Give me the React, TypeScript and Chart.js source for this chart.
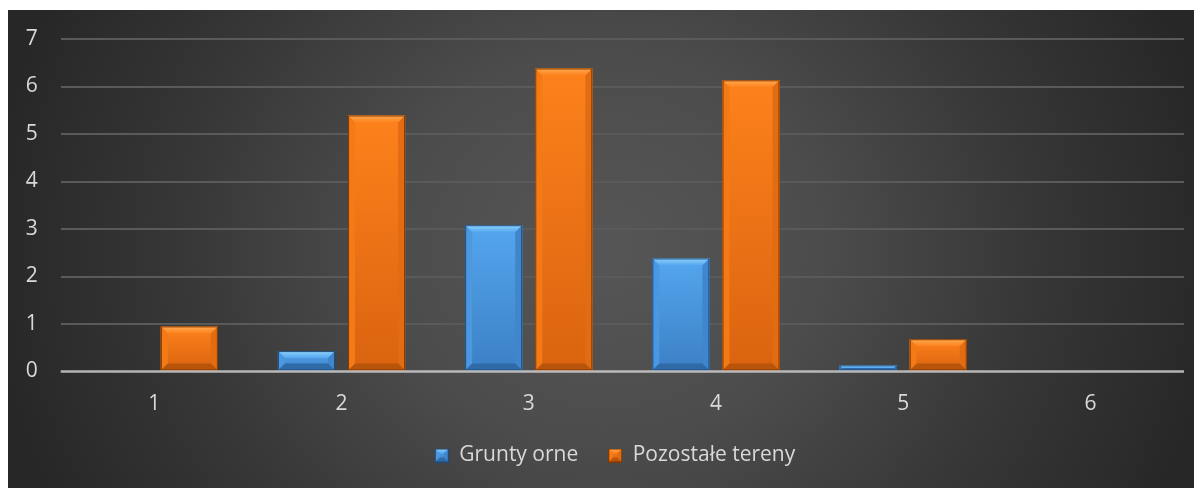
import React, { useEffect, useRef } from "react";
import { Chart, registerables } from "chart.js";

Chart.register(...registerables);

// ---- data ----
const categories = ["1", "2", "3", "4", "5", "6"];
const gruntyOrne = [0, 0.43, 3.08, 2.38, 0.13, 0];
const pozostaleTereny = [0.95, 5.39, 6.38, 6.13, 0.68, 0];
const yTicks = [0, 1, 2, 3, 4, 5, 6, 7];
const seriesNames = ["Grunty orne", "Pozostałe tereny"];

// ---- styling ----
const W = 1194;
const H = 478;
const FONT = "'Open Sans', 'DejaVu Sans', sans-serif";
const TEXT = "#d9d9d9";
const LEGEND_SHIFT = 15;

type Palette = {
  flat: string;
  bodyTop: string;
  bodyBottom: string;
  light: string;
  side: string;
  sideDark: string;
  dark: string;
  edge: string;
};

const bluePalette: Palette = {
  flat: "#4a98e2",
  bodyTop: "#54a6ee",
  bodyBottom: "#3c80c6",
  light: "#8ed2fa",
  side: "#4b98e0",
  sideDark: "#3f86cc",
  dark: "#2f6aa6",
  edge: "#1d4c7c",
};

const orangePalette: Palette = {
  flat: "#f57a16",
  bodyTop: "#fd821c",
  bodyBottom: "#da630f",
  light: "#ffaa52",
  side: "#f47a16",
  sideDark: "#e26c11",
  dark: "#b9540b",
  edge: "#7f3704",
};

const palettes = [bluePalette, orangePalette];

function poly(ctx: CanvasRenderingContext2D, pts: number[][], fill: string | CanvasGradient) {
  ctx.beginPath();
  ctx.moveTo(pts[0][0], pts[0][1]);
  for (let i = 1; i < pts.length; i++) ctx.lineTo(pts[i][0], pts[i][1]);
  ctx.closePath();
  ctx.fillStyle = fill;
  ctx.fill();
}

function drawBevelBar(
  ctx: CanvasRenderingContext2D,
  left: number,
  top: number,
  right: number,
  bottom: number,
  p: Palette,
  maxBevel: number
) {
  const w = right - left;
  const h = bottom - top;
  if (h <= 0.5 || w <= 0.5) return;
  const b = Math.min(maxBevel, h / 2, w / 2);

  const body = ctx.createLinearGradient(0, top, 0, bottom);
  body.addColorStop(0, p.bodyTop);
  body.addColorStop(1, p.bodyBottom);
  ctx.fillStyle = body;
  ctx.fillRect(left, top, w, h);

  const topG = ctx.createLinearGradient(0, top, 0, top + b);
  topG.addColorStop(0, p.light);
  topG.addColorStop(1, p.bodyTop);
  poly(ctx, [[left, top], [right, top], [right - b, top + b], [left + b, top + b]], topG);
  poly(ctx, [[left, top], [left + b, top + b], [left + b, bottom - b], [left, bottom]], p.side);
  poly(ctx, [[right, top], [right - b, top + b], [right - b, bottom - b], [right, bottom]], p.sideDark);
  poly(ctx, [[left, bottom], [left + b, bottom - b], [right - b, bottom - b], [right, bottom]], p.dark);

  ctx.strokeStyle = p.edge;
  ctx.lineWidth = 1;
  ctx.strokeRect(left + 0.5, top + 0.5, w - 1, h - 1);
}

function legendSwatch(p: Palette): HTMLCanvasElement {
  const c = document.createElement("canvas");
  c.width = 14;
  c.height = 14;
  const ctx = c.getContext("2d");
  if (ctx) drawBevelBar(ctx, 0, 0, 14, 14, p, 5);
  return c;
}

// Dark backdrop, brighter towards the middle
const backdropPlugin = {
  id: "backdrop",
  beforeDraw(chart: Chart) {
    const { ctx, width, height } = chart;
    ctx.save();
    ctx.fillStyle = "#272727";
    ctx.fillRect(0, 0, width, height);
    ctx.translate(width / 2, height * 0.5);
    ctx.scale(1, 0.9);
    const g = ctx.createRadialGradient(0, 0, 0, 0, 0, width * 0.52);
    g.addColorStop(0, "#565656");
    g.addColorStop(0.35, "#4c4c4c");
    g.addColorStop(0.7, "#363636");
    g.addColorStop(1, "#272727");
    ctx.fillStyle = g;
    ctx.fillRect(-width, -height * 1.2, width * 2, height * 2.4);
    ctx.restore();
  },
};

// Nudge the legend a little to the right of the canvas centre
const legendShiftPlugin = {
  id: "legendShift",
  afterLayout(chart: Chart) {
    const lg: any = (chart as any).legend;
    if (lg) {
      lg.left += LEGEND_SHIFT;
      lg.right += LEGEND_SHIFT;
    }
  },
};

// Bevelled bars on top of the flat ones, then the baseline
const bevelPlugin = {
  id: "bevel",
  afterDatasetsDraw(chart: Chart) {
    const { ctx, chartArea } = chart;
    ctx.save();
    chart.data.datasets.forEach((_ds, di) => {
      const meta = chart.getDatasetMeta(di);
      meta.data.forEach((el: any) => {
        const { x, y, base, width } = el.getProps(["x", "y", "base", "width"], true);
        drawBevelBar(ctx, x - width / 2, Math.min(y, base), x + width / 2, Math.max(y, base), palettes[di], 7);
      });
    });
    const yScale = chart.scales.y;
    const y0 = yScale.getPixelForValue(0);
    ctx.strokeStyle = "rgba(205,205,205,0.85)";
    ctx.lineWidth = 2.5;
    ctx.beginPath();
    ctx.moveTo(chartArea.left, y0);
    ctx.lineTo(chartArea.right, y0);
    ctx.stroke();
    ctx.restore();
  },
};

export default function App() {
  const ref = useRef<HTMLCanvasElement | null>(null);

  useEffect(() => {
    document.documentElement.style.overflow = "hidden";
    const canvas = ref.current;
    if (!canvas) return;

    const swatches = palettes.map(legendSwatch);

    const chart = new Chart(canvas, {
      type: "bar",
      data: {
        labels: categories,
        datasets: [
          {
            label: seriesNames[0],
            data: gruntyOrne,
            backgroundColor: bluePalette.flat,
            pointStyle: swatches[0],
          },
          {
            label: seriesNames[1],
            data: pozostaleTereny,
            backgroundColor: orangePalette.flat,
            pointStyle: swatches[1],
          },
        ],
      },
      options: {
        responsive: false,
        animation: false,
        layout: { padding: { left: 8, right: 18, top: 29, bottom: 12 } },
        datasets: {
          bar: { categoryPercentage: 0.749, barPercentage: 0.814 },
        },
        scales: {
          x: {
            grid: { display: false, drawTicks: false },
            border: { display: false },
            ticks: { color: TEXT, font: { family: FONT, size: 21 }, padding: 20 },
            afterFit(scale: any) {
              scale.height = 43.5;
            },
          },
          y: {
            min: 0,
            max: 7,
            grid: {
              drawTicks: false,
              color: (c: any) => (c.tick && c.tick.value === 0 ? "rgba(0,0,0,0)" : "#5a5a5a"),
              lineWidth: 2,
            },
            border: { display: false },
            ticks: {
              color: TEXT,
              font: { family: FONT, size: 21 },
              padding: 23,
              stepSize: 1,
              callback: (v: any) => (yTicks.includes(Number(v)) ? String(v) : ""),
            },
            afterFit(scale: any) {
              scale.width = 44.7;
              scale.paddingTop = 0;
              scale.paddingBottom = 0;
            },
          },
        },
        plugins: {
          legend: {
            position: "bottom",
            labels: {
              color: TEXT,
              font: { family: FONT, size: 21 },
              usePointStyle: true,
              boxWidth: 14,
              boxHeight: 14,
              padding: 30,
            },
          },
          tooltip: { enabled: false },
        },
      },
      plugins: [backdropPlugin, legendShiftPlugin, bevelPlugin],
    });

    return () => chart.destroy();
  }, []);

  return (
    <div style={{ marginTop: 2, width: W, height: H }}>
      <canvas ref={ref} width={W} height={H} style={{ display: "block", width: W, height: H }} />
    </div>
  );
}
